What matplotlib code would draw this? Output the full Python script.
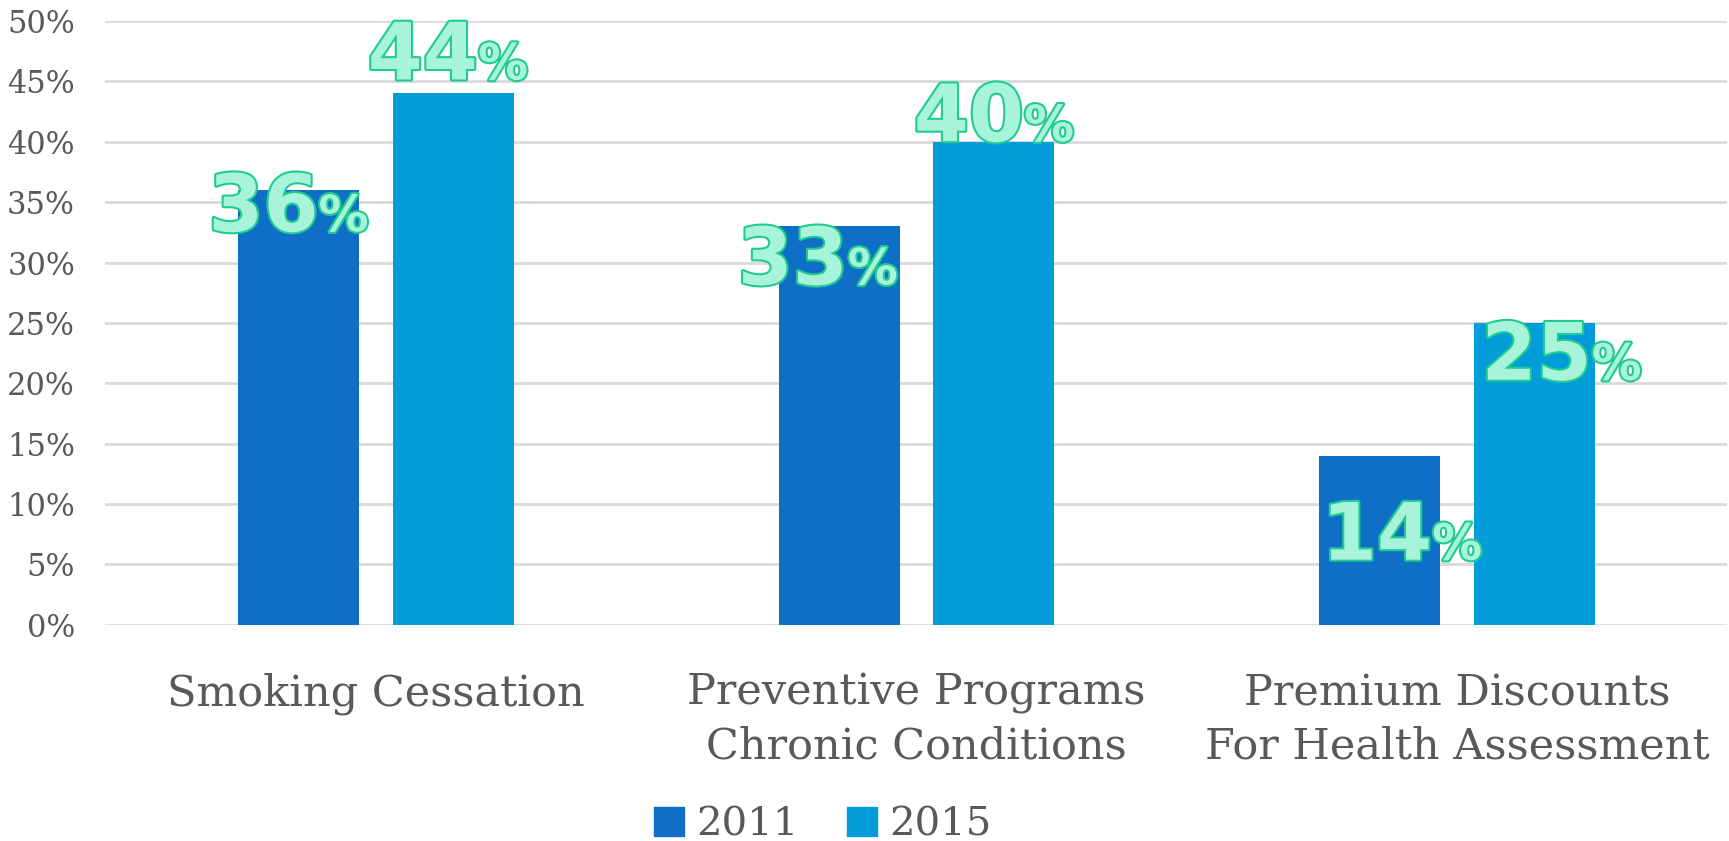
import matplotlib
matplotlib.use("Agg")
import matplotlib.pyplot as plt
import matplotlib.patheffects as pe
from matplotlib.patches import Patch
import numpy as np

categories = ["Smoking Cessation",
              "Preventive Programs\nChronic Conditions",
              "Premium Discounts\nFor Health Assessment"]
series_names = ["2011", "2015"]
values_2011 = [36, 33, 14]
values_2015 = [44, 40, 25]
yticks = [0, 5, 10, 15, 20, 25, 30, 35, 40, 45, 50]
ytick_labels = ["0%", "5%", "10%", "15%", "20%", "25%", "30%", "35%", "40%", "45%", "50%"]

# layout of the hand-placed data labels (offsets from bar centre / bar top)
label_dx_2011 = [0.037, 0.016, 0.097]
label_dy_2011 = [-3.4, -4.8, -8.6]
label_dx_2015 = [0.046, 0.056, 0.106]
label_dy_2015 = [1.16, 0.05, -4.7]

colors = ["#0F6FC6", "#009DD9"]
grid_color = "#D9D9D9"
text_color = "#595959"
label_fill = "#A8F4DA"
label_edge = "#1FCB90"

fig = plt.figure(figsize=(17.29, 8.41), dpi=100)
ax = fig.add_axes([0.061, 0.257, 0.938, 0.718])

x = np.arange(len(categories))
bw = 0.224
off = 0.143
ax.bar(x - off, values_2011, bw, color=colors[0], zorder=2)
ax.bar(x + off, values_2015, bw, color=colors[1], zorder=2)

ax.set_xlim(-0.5, 2.5)
ax.set_ylim(0, 50)
ax.set_yticks(yticks)
ax.set_yticklabels(ytick_labels, fontsize=22, color=text_color, family="DejaVu Serif")
ax.set_xticks(x)
ax.set_xticklabels(categories, fontsize=31, color=text_color, family="DejaVu Serif",
                   linespacing=1.36)
ax.tick_params(axis="both", length=0)
ax.tick_params(axis="y", pad=22)
ax.tick_params(axis="x", pad=34)
ax.grid(axis="y", color=grid_color, linewidth=2, zorder=0)
for s in ax.spines.values():
    s.set_visible(False)

effects = [pe.Stroke(linewidth=3, foreground=label_edge), pe.Normal()]

def put_label(xc, val, dx, dy):
    xa = xc + dx
    ya = val + dy
    ax.text(xa, ya, f"{val}", ha="right", va="baseline", fontsize=57,
            fontweight="bold", family="DejaVu Sans", color=label_fill,
            path_effects=effects, zorder=5)
    ax.text(xa, ya, "%", ha="left", va="baseline", fontsize=36,
            fontweight="bold", family="DejaVu Sans", color=label_fill,
            path_effects=effects, zorder=5)

for i in range(len(categories)):
    put_label(x[i] - off, values_2011[i], label_dx_2011[i], label_dy_2011[i])
    put_label(x[i] + off, values_2015[i], label_dx_2015[i], label_dy_2015[i])

handles = [Patch(color=colors[0], label=series_names[0]),
           Patch(color=colors[1], label=series_names[1])]
fig.legend(handles=handles, loc="center", bbox_to_anchor=(0.476, 0.019), ncol=2,
           frameon=False, prop={"family": "DejaVu Serif", "size": 29},
           labelcolor=text_color, handlelength=0.75, handleheight=0.75,
           handletextpad=0.3, columnspacing=1.2)

fig.savefig("out.png", dpi=100, facecolor="white")
